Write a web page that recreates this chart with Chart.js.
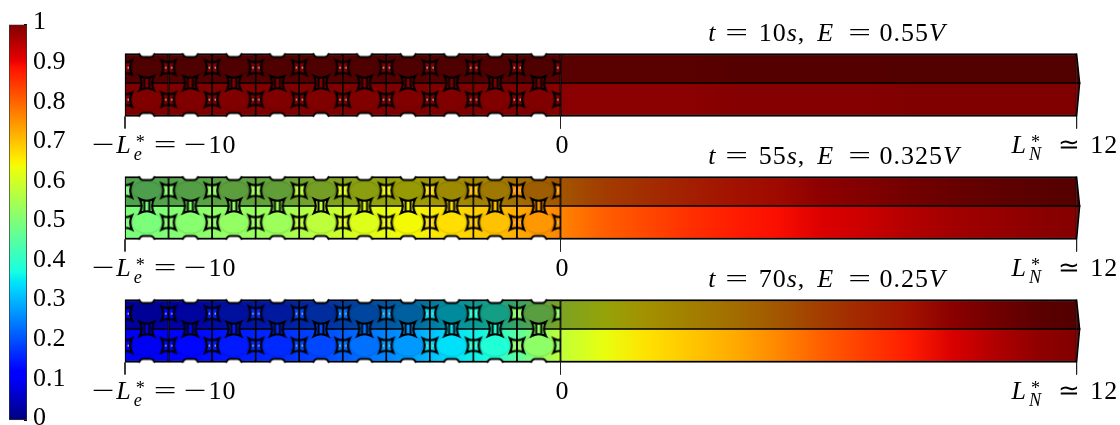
<!DOCTYPE html>
<html>
<head>
<meta charset="utf-8">
<title>Concentration profiles</title>
<script src="https://cdn.jsdelivr.net/npm/chart.js@4/dist/chart.umd.js"></script>
<style>
  html, body { margin: 0; padding: 0; background: #fff; width: 1120px; height: 425px; overflow: hidden; }
  canvas { position: absolute; left: 0; top: 0; }
</style>
</head>
<body>
<canvas id="mainChart" width="1120" height="425"></canvas>
<canvas id="colorbar" width="80" height="445"></canvas>
<script>
// ===== Data =====
const colorbarTicks = [0, 0.1, 0.2, 0.3, 0.4, 0.5, 0.6, 0.7, 0.8, 0.9, 1];
const panelTime = ['10', '55', '70'];
const panelVoltage = ['0.55', '0.325', '0.25'];
const xTicks = [-10, 0, 11.85];

const particleX = [-9.5, -8.5, -7.5, -6.5, -5.5, -4.5, -3.5, -2.5, -1.5, -0.5];
const electrolyteX = [0, 1, 2, 3, 4, 5, 6, 7, 8, 9, 10, 11, 11.85];

const electrodeValues10s = [1, 1, 1, 1, 1, 1, 1, 1, 1, 1];
const electrodeValues55s = [0.5, 0.515, 0.53, 0.54, 0.58, 0.62, 0.645, 0.675, 0.705, 0.75];
const electrodeValues70s = [0.1, 0.13, 0.15, 0.165, 0.195, 0.235, 0.275, 0.345, 0.39, 0.524];

const electrolyteValues10s = [0.99, 0.99, 0.99, 0.99, 0.995, 0.995, 0.995, 0.995, 1, 1, 1, 1, 1];
const electrolyteValues55s = [0.77, 0.81, 0.835, 0.86, 0.88, 0.895, 0.92, 0.935, 0.955, 0.97, 0.98, 0.99, 0.995];
const electrolyteValues70s = [0.583, 0.632, 0.672, 0.7, 0.73, 0.767, 0.81, 0.847, 0.88, 0.923, 0.958, 0.987, 0.998];

const electrodeValues = [electrodeValues10s, electrodeValues55s, electrodeValues70s];
const electrolyteValues = [electrolyteValues10s, electrolyteValues55s, electrolyteValues70s];

// ===== Layout =====
const panelTop = [53.5, 176.5, 299.5];
const dividerAt = 29.5;
const panelHeight = 63;
const topRowAt = 14;
const bottomRowAt = 46;
const topShade = 0.64;
const serif = "'Liberation Serif', serif";

// ===== Jet colormap =====
const jetR = [[0, 0], [0.35, 0], [0.66, 1], [0.89, 1], [1, 0.5]];
const jetG = [[0, 0], [0.125, 0], [0.375, 1], [0.64, 1], [0.91, 0], [1, 0]];
const jetB = [[0, 0.5], [0.11, 1], [0.34, 1], [0.65, 0], [1, 0]];

function ramp(table, v) {
    for (let i = 1; i < table.length; i++) {
        if (v <= table[i][0]) {
            const [x0, y0] = table[i - 1];
            const [x1, y1] = table[i];
            return y0 + (y1 - y0) * (v - x0) / (x1 - x0);
        }
    }
    return table[table.length - 1][1];
}

function jet(v, shade = 1) {
    const c = t => Math.round(ramp(t, v) * 255 * shade);
    return `rgb(${c(jetR)},${c(jetG)},${c(jetB)})`;
}

// left-to-right gradient, nodes placed by the x scale
function profileGradient(chart, xs, values, shade) {
    const scale = chart.scales.x;
    const p0 = scale.getPixelForValue(xs[0]);
    const p1 = scale.getPixelForValue(xs[xs.length - 1]);
    if (!isFinite(p0) || !isFinite(p1) || p0 === p1) return 'transparent'; // before first layout
    const g = chart.ctx.createLinearGradient(p0, 0, p1, 0);
    xs.forEach((x, i) => g.addColorStop((scale.getPixelForValue(x) - p0) / (p1 - p0), jet(values[i], shade)));
    return g;
}

// ===== Point images =====
function makeCanvas(w, h, draw) {
    const c = document.createElement('canvas');
    c.width = w;
    c.height = h;
    const ctx = c.getContext('2d');
    ctx.translate(w / 2, h / 2);
    draw(ctx);
    return c;
}

function particleImage(color, ry, notchY) {
    return makeCanvas(34, 44, ctx => {
        ctx.fillStyle = color;
        ctx.strokeStyle = 'rgba(0,0,0,0.15)';
        ctx.lineWidth = 1;
        ctx.beginPath();
        ctx.ellipse(0, 0, 15, ry, 0, 0, Math.PI * 2);
        ctx.fill();
        ctx.stroke();
        // white notch in the outer edge above or below the particle
        const dir = Math.sign(notchY);
        ctx.fillStyle = '#fff';
        ctx.strokeStyle = '#000';
        ctx.lineWidth = 1.8;
        ctx.beginPath();
        ctx.moveTo(-7, notchY + dir * 2);
        ctx.lineTo(-7, notchY);
        ctx.quadraticCurveTo(-6, notchY - dir * 3.5, -4, notchY - dir * 3.5);
        ctx.lineTo(4, notchY - dir * 3.5);
        ctx.quadraticCurveTo(6, notchY - dir * 3.5, 7, notchY);
        ctx.lineTo(7, notchY + dir * 2);
        ctx.closePath();
        ctx.fill();
        ctx.beginPath();
        ctx.moveTo(-8, notchY);
        ctx.quadraticCurveTo(-6, notchY - dir * 3.5, -4, notchY - dir * 3.5);
        ctx.lineTo(4, notchY - dir * 3.5);
        ctx.quadraticCurveTo(6, notchY - dir * 3.5, 8, notchY);
        ctx.stroke();
    });
}

function starPath(ctx, r) {
    const k = r * 0.5;
    ctx.beginPath();
    ctx.moveTo(-r, -r);
    ctx.quadraticCurveTo(0, -k, r, -r);
    ctx.quadraticCurveTo(k, 0, r, r);
    ctx.quadraticCurveTo(0, k, -r, r);
    ctx.quadraticCurveTo(-k, 0, -r, -r);
    ctx.closePath();
}

// kind: 'row' sits on a particle boundary, 'mid' between the two rows;
// side: -1 keeps only the left half, 1 only the right half
function starImage(color, kind, side = 0) {
    return makeCanvas(22, 22, ctx => {
        if (side) {
            ctx.beginPath();
            ctx.rect(side < 0 ? -11 : 0, -11, 11, 22);
            ctx.clip();
        }
        ctx.fillStyle = color;
        ctx.strokeStyle = '#000';
        ctx.lineWidth = 2.2;
        starPath(ctx, 7);
        ctx.fill();
        ctx.stroke();
        if (kind === 'mid') {
            ctx.fillStyle = '#000';
            ctx.fillRect(-3.5, -5.5, 2, 11);
            ctx.fillRect(1.5, -5.5, 2, 11);
        } else {
            ctx.fillStyle = '#000';
            ctx.fillRect(-1, -7, 2, 14);
            ctx.fillStyle = '#ccc';
            ctx.fillRect(-3.5, -0.5, 1.5, 1.5);
            ctx.fillRect(2.5, -0.5, 1.5, 1.5);
        }
    });
}

// ===== Datasets per panel =====
function panelDatasets(p) {
    const T = panelTop[p];
    const vals = electrodeValues[p];
    const eVals = electrolyteValues[p];
    const xEnd = xTicks[2];
    const xs = particleX.concat([0]);
    const nodes = vals.concat([eVals[0]]);
    const sets = [];

    const cellRows = [
        { y: [T, T + dividerAt], shade: topShade, border: { left: 1.2, right: 1.2, top: 2, bottom: 1 } },
        { y: [T + dividerAt, T + panelHeight], shade: 1, border: { left: 1.2, right: 1.2, top: 1, bottom: 2 } }
    ];
    cellRows.forEach(row => {
        sets.push({
            type: 'bar',
            order: 4,
            data: particleX.map(x => ({ x: x, y: row.y })),
            barThickness: 43.55,
            grouped: false,
            borderSkipped: false,
            borderColor: '#000',
            borderWidth: row.border,
            backgroundColor: c => profileGradient(c.chart, xs, nodes, row.shade)
        });
        sets.push({
            type: 'bar',
            order: 4,
            indexAxis: 'y',
            data: [{ x: [0, xEnd], y: (row.y[0] + row.y[1]) / 2 }],
            barThickness: row.y[1] - row.y[0],
            grouped: false,
            borderSkipped: false,
            borderColor: '#000',
            borderWidth: row.border,
            backgroundColor: c => profileGradient(c.chart, electrolyteX, eVals, row.shade)
        });
        // small bulge at the far end of the strip
        const yMid = T + dividerAt;
        const yOuter = row.shade === 1 ? T + panelHeight : T;
        sets.push({
            type: 'line',
            order: 3,
            data: [{ x: xEnd, y: yOuter }, { x: xEnd + 0.07, y: yMid }, { x: xEnd, y: yMid }],
            borderColor: '#000',
            borderWidth: 1.5,
            pointRadius: 0,
            fill: 'shape',
            backgroundColor: jet(eVals[eVals.length - 1], row.shade)
        });
    });

    // particles
    sets.push({
        type: 'scatter',
        order: 2,
        data: particleX.map(x => ({ x: x, y: T + topRowAt })),
        pointRadius: 5,
        pointStyle: vals.map(v => particleImage(jet(v, topShade - 0.02), 9.5, -14))
    });
    sets.push({
        type: 'scatter',
        order: 2,
        data: particleX.map(x => ({ x: x, y: T + bottomRowAt })),
        pointRadius: 5,
        pointStyle: vals.map(v => particleImage(jet(v), 11, 17))
    });

    // pores between the particles
    const poreX = [-10].concat(particleX.map(x => x + 0.5));
    [topRowAt, bottomRowAt].forEach(dy => {
        sets.push({
            type: 'scatter',
            order: 1,
            data: poreX.map(x => ({ x: x, y: T + dy })),
            pointRadius: 5,
            pointStyle: poreX.map((x, i) =>
                starImage(jet(vals[Math.min(i, vals.length - 1)]), 'row', x === -10 ? 1 : x === 0 ? -1 : 0))
        });
    });
    sets.push({
        type: 'scatter',
        order: 1,
        data: particleX.map(x => ({ x: x, y: T + dividerAt })),
        pointRadius: 5,
        pointStyle: vals.map(v => starImage(jet(v), 'mid'))
    });

    // ticks under the strip
    xTicks.forEach(x => {
        sets.push({
            type: 'line',
            order: 5,
            data: [{ x: x, y: T + panelHeight }, { x: x, y: T + 75 }],
            borderColor: '#222',
            borderWidth: 1,
            pointRadius: 0
        });
    });
    return sets;
}

// ===== Math-style text =====
function pieceWidth(ctx, piece, size) {
    if (piece.gap) return piece.gap;
    if (piece.sup || piece.sub) {
        ctx.font = `italic ${size * 0.7}px ${serif}`;
        return Math.max(ctx.measureText(piece.sup).width, ctx.measureText(piece.sub).width) + 2;
    }
    ctx.font = `${piece.i ? 'italic ' : ''}${size}px ${serif}`;
    return ctx.measureText(piece.t).width * (piece.wide || 1);
}

function drawMath(ctx, pieces, x, y, size) {
    ctx.fillStyle = '#000';
    ctx.textAlign = 'left';
    ctx.textBaseline = 'alphabetic';
    ctx.letterSpacing = '1px';
    pieces.forEach(piece => {
        const w = pieceWidth(ctx, piece, size);
        if (piece.sup || piece.sub) {
            ctx.font = `${size * 0.7}px ${serif}`;
            ctx.fillText(piece.sup, x + 4, y - 5);
            ctx.font = `italic ${size * 0.7}px ${serif}`;
            ctx.fillText(piece.sub, x + 2, y + 7);
        } else if (piece.t) {
            ctx.font = `${piece.i ? 'italic ' : ''}${size}px ${serif}`;
            ctx.save();
            ctx.translate(x, y);
            ctx.scale(piece.wide || 1, 1); // Computer Modern operators are wider
            ctx.fillText(piece.t, 0, 0);
            ctx.restore();
        }
        x += w;
    });
}

const OP_WIDE = 1.55;

const textPlugin = {
    id: 'mathText',
    afterDatasetsDraw(chart) {
        const { ctx, scales } = chart;
        const size = 26;
        panelTop.forEach((T, p) => {
            const below = scales.y.getPixelForValue(T + 99.5);
            const above = scales.y.getPixelForValue(T - 12.5);
            ctx.save();
            drawMath(ctx, [
                { t: 't', i: true }, { gap: 9 }, { t: '=', wide: OP_WIDE }, { gap: 9 }, { t: panelTime[p] }, { t: 's', i: true },
                { t: ',' }, { gap: 12 }, { t: 'E', i: true }, { gap: 14 }, { t: '=', wide: OP_WIDE }, { gap: 7 },
                { t: panelVoltage[p] }, { t: 'V', i: true }
            ], scales.x.getPixelForValue(3.39), above, size);
            drawMath(ctx, [
                { t: '\u2212', wide: OP_WIDE }, { t: 'L', i: true }, { sup: '*', sub: 'e' }, { gap: 10 }, { t: '=', wide: OP_WIDE }, { gap: 6 },
                { t: '\u2212', wide: OP_WIDE }, { t: String(xTicks[0]).replace('-', '') }
            ], scales.x.getPixelForValue(xTicks[0]) - 33, below, size);
            drawMath(ctx, [{ t: '0' }], scales.x.getPixelForValue(xTicks[1]) - 5, below, size);
            drawMath(ctx, [
                { t: 'L', i: true }, { sup: '*', sub: 'N' }, { gap: 16 }, { t: '\u2243' }, { gap: 9 }, { t: '12' }
            ], scales.x.getPixelForValue(xTicks[2]) - 65, below, size);
            ctx.restore();
        });
    }
};

// ===== Main chart =====
new Chart(document.getElementById('mainChart').getContext('2d'), {
    type: 'bar',
    data: { datasets: panelTop.flatMap((T, p) => panelDatasets(p)) },
    options: {
        responsive: false,
        animation: false,
        events: [],
        layout: { padding: 0, autoPadding: false },
        plugins: { legend: { display: false }, tooltip: { enabled: false } },
        scales: {
            x: { type: 'linear', min: -12.87, max: 12.847, offset: false, display: false, grid: { offset: false } },
            y: { type: 'linear', min: 0, max: 425, reverse: true, display: false, offset: false, grid: { offset: false }, beginAtZero: false }
        }
    },
    plugins: [textPlugin]
});

// ===== Colorbar =====
const jetBreaks = [0, 0.11, 0.125, 0.34, 0.35, 0.375, 0.64, 0.65, 0.66, 0.89, 0.91, 1];

new Chart(document.getElementById('colorbar').getContext('2d'), {
    type: 'bar',
    data: {
        labels: ['c'],
        datasets: [{
            data: [[colorbarTicks[0], colorbarTicks[colorbarTicks.length - 1]]],
            borderColor: '#333',
            borderWidth: 1,
            borderSkipped: false,
            categoryPercentage: 1,
            barPercentage: 1,
            backgroundColor: c => {
                const scale = c.chart.scales.y;
                const p0 = scale.getPixelForValue(0);
                const p1 = scale.getPixelForValue(1);
                if (!isFinite(p0) || !isFinite(p1) || p0 === p1) return 'transparent'; // before first layout
                const g = c.chart.ctx.createLinearGradient(0, p0, 0, p1);
                jetBreaks.forEach(v => g.addColorStop(v, jet(v)));
                return g;
            }
        }]
    },
    options: {
        responsive: false,
        animation: false,
        events: [],
        layout: { padding: { left: 9, top: 21, bottom: 23, right: 0 } },
        plugins: { legend: { display: false }, tooltip: { enabled: false } },
        scales: {
            x: { display: false, offset: true },
            y: {
                position: 'right',
                min: 0,
                max: 1,
                afterBuildTicks: s => { s.ticks = colorbarTicks.map(value => ({ value })); },
                afterFit: s => { s.width = 53; },
                border: { display: false },
                grid: { drawOnChartArea: false, color: '#000', tickLength: -3 },
                ticks: {
                    autoSkip: false,
                    padding: 9,
                    labelOffset: -2,
                    color: '#000',
                    font: { family: serif, size: 26 },
                    callback: v => (v === 0 || v === 1) ? String(v) : v.toFixed(1)
                }
            }
        }
    }
});
</script>
</body>
</html>
